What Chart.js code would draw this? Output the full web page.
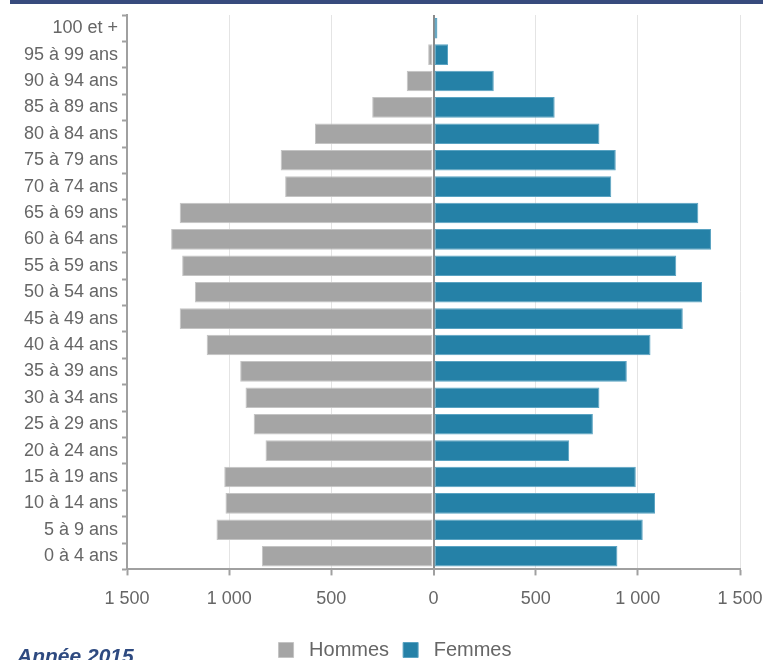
<!DOCTYPE html>
<html>
<head>
<meta charset="utf-8">
<script src="https://cdn.jsdelivr.net/npm/chart.js@4"></script>
<style>
  html, body { margin: 0; padding: 0; background: #fff; }
  #wrap { position: relative; width: 763px; height: 660px; overflow: hidden; }
  #topbar { position: absolute; left: 10px; right: 0; top: 0; height: 4px; background: #374b7d; }
  #annee { position: absolute; left: 17px; top: 644px; font: italic bold 21px "Liberation Sans", Arial, sans-serif; color: #2e4a80; }
</style>
</head>
<body>
<div id="wrap">
  <div id="topbar"></div>
  <canvas id="chart1" width="763" height="660"></canvas>
  <div id="annee">Année 2015</div>
</div>
<script>
// Pyramide des âges, année 2015
const ages = ["100 et +", "95 à 99 ans", "90 à 94 ans", "85 à 89 ans", "80 à 84 ans",
    "75 à 79 ans", "70 à 74 ans", "65 à 69 ans", "60 à 64 ans", "55 à 59 ans",
    "50 à 54 ans", "45 à 49 ans", "40 à 44 ans", "35 à 39 ans", "30 à 34 ans",
    "25 à 29 ans", "20 à 24 ans", "15 à 19 ans", "10 à 14 ans", "5 à 9 ans", "0 à 4 ans"];
const hommes = [5, 26, 131, 300, 580, 748, 726, 1242, 1284, 1230, 1168, 1242, 1110,
    946, 920, 880, 822, 1024, 1018, 1062, 840];
const femmes = [19, 71, 295, 593, 812, 892, 870, 1296, 1358, 1188, 1314, 1220, 1062,
    946, 812, 780, 664, 990, 1084, 1024, 900];
const xTicks = [-1500, -1000, -500, 0, 500, 1000, 1500];

const font = "'Liberation Sans', Arial, sans-serif";
const fmt = v => Math.abs(v).toString().replace(/\B(?=(\d{3})+(?!\d))/g, " ");

// move the legend a bit to the right, like the original
const legendShift = {
    id: 'legendShift',
    afterLayout(chart) {
        chart.legend.left += 25;
        chart.legend.right += 25;
    }
};

new Chart(document.getElementById("chart1"), {
    type: 'bar',
    data: {
        labels: ages,
        datasets: [{
            label: "Hommes",
            data: hommes.map(v => -v),
            backgroundColor: "#a5a5a5",
            borderColor: "#c4c4c4",
            borderWidth: 1,
            borderSkipped: false
        }, {
            label: "Femmes",
            data: femmes,
            backgroundColor: "#2581a7",
            borderColor: "#5aa3c2",
            borderWidth: 1,
            borderSkipped: false
        }]
    },
    plugins: [legendShift],
    options: {
        indexAxis: 'y',
        responsive: false,
        animation: false,
        layout: { padding: { left: 0, right: 23, top: 15, bottom: -10 } },
        datasets: { bar: { categoryPercentage: 1, barPercentage: 0.78 } },
        scales: {
            x: {
                stacked: true,
                min: -1500,
                max: 1500,
                afterBuildTicks: axis => { axis.ticks = xTicks.map(v => ({ value: v })); },
                afterFit: axis => {
                    axis.height += 3;
                    axis.paddingLeft = 0;
                    axis.paddingRight = 0;
                },
                ticks: {
                    callback: v => fmt(v),
                    color: "#666",
                    padding: 13,
                    font: { family: font, size: 18 }
                },
                grid: {
                    color: ctx => ctx.tick && ctx.tick.value === 0 ? "#8a8a8a" : "#e4e4e4",
                    lineWidth: ctx => ctx.tick && ctx.tick.value === 0 ? 2 : 1,
                    tickColor: "#a0a0a0",
                    tickWidth: 2,
                    tickLength: 6
                },
                border: { color: "#a0a0a0", width: 2 }
            },
            y: {
                stacked: true,
                afterFit: axis => { axis.width = 127; },
                ticks: {
                    color: "#666",
                    padding: 4,
                    font: { family: font, size: 18 }
                },
                grid: {
                    offset: true,
                    drawOnChartArea: false,
                    tickColor: "#a0a0a0",
                    tickWidth: 2,
                    tickLength: 5
                },
                border: { color: "#a0a0a0", width: 2 }
            }
        },
        plugins: {
            tooltip: { enabled: false },
            legend: {
                position: 'bottom',
                labels: {
                    boxWidth: 15,
                    boxHeight: 15,
                    color: "#666",
                    padding: 14,
                    font: { family: font, size: 20 },
                    generateLabels: chart => {
                        const items = Chart.defaults.plugins.legend.labels.generateLabels(chart);
                        items.forEach(it => { it.text = " " + it.text; });
                        return items;
                    }
                }
            }
        }
    }
});
</script>
</body>
</html>
